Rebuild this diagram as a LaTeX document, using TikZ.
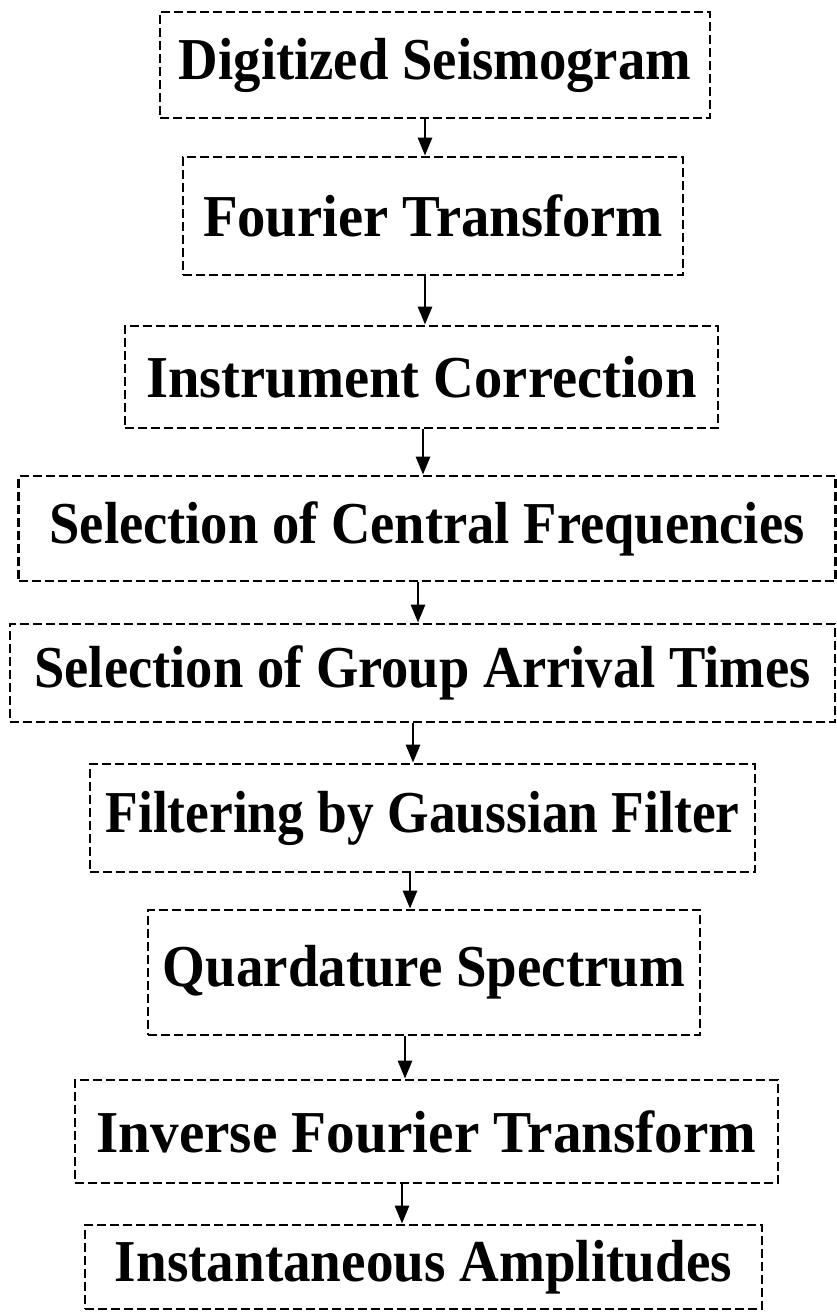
\documentclass[tikz,border=0pt]{standalone}
\usepackage{fontspec}
\setmainfont{Liberation Serif}
\usepackage{graphicx}
\usetikzlibrary{arrows.meta}
\newcommand{\lbl}[2]{\resizebox{#1pt}{1.1\height}{\fontsize{54}{60}\selectfont\bfseries #2}}
\begin{document}
\begin{tikzpicture}[x=1pt,y=-1pt,
  stepbox/.style={draw, line width=2.8pt, dash pattern=on 9pt off 4pt, inner sep=0pt},
  arr/.style={line width=2.8pt, -{Triangle[length=18pt,width=14pt]}}]
\useasboundingbox[fill=white] (0,0) rectangle (837,1312);
\node[stepbox, minimum width=550pt, minimum height=106pt] (b1) at (435,65) {\lbl{512}{Digitized Seismogram}};
\node[stepbox, minimum width=500pt, minimum height=118pt] (b2) at (433,216) {\lbl{460}{Fourier Transform}};
\node[stepbox, minimum width=593pt, minimum height=102pt] (b3) at (421.5,377) {\lbl{550}{Instrument Correction}};
\node[stepbox, minimum width=817pt, minimum height=105pt] (b4) at (427,528.5) {\lbl{755}{Selection of Central Frequencies}};
\node[stepbox, minimum width=825pt, minimum height=98pt] (b5) at (422.5,673) {\lbl{776}{Selection of Group Arrival Times}};
\node[stepbox, minimum width=665pt, minimum height=108pt] (b6) at (422.5,818) {\lbl{634}{Filtering by Gaussian Filter}};
\node[stepbox, minimum width=552pt, minimum height=125pt] (b7) at (424,972.5) {\lbl{522}{Quardature Spectrum}};
\node[stepbox, minimum width=703pt, minimum height=103pt] (b8) at (426.5,1131.5) {\lbl{660}{Inverse Fourier Transform}};
\node[stepbox, minimum width=677pt, minimum height=84pt] (b9) at (423.5,1267) {\lbl{617}{Instantaneous Amplitudes}};
\draw[arr] ([xshift=-10pt]b1.south) -- ([xshift=-8pt]b2.north);
\draw[arr] ([xshift=-8pt]b2.south) -- ([xshift=3.5pt]b3.north);
\draw[arr] ([xshift=1.5pt]b3.south) -- ([xshift=-4pt]b4.north);
\draw[arr] ([xshift=-9pt]b4.south) -- ([xshift=-4.5pt]b5.north);
\draw[arr] ([xshift=-9.5pt]b5.south) -- ([xshift=-9.5pt]b6.north);
\draw[arr] ([xshift=-12.5pt]b6.south) -- ([xshift=-14pt]b7.north);
\draw[arr] ([xshift=-19pt]b7.south) -- ([xshift=-21.5pt]b8.north);
\draw[arr] ([xshift=-24.5pt]b8.south) -- ([xshift=-21.5pt]b9.north);
\end{tikzpicture}
\end{document}
